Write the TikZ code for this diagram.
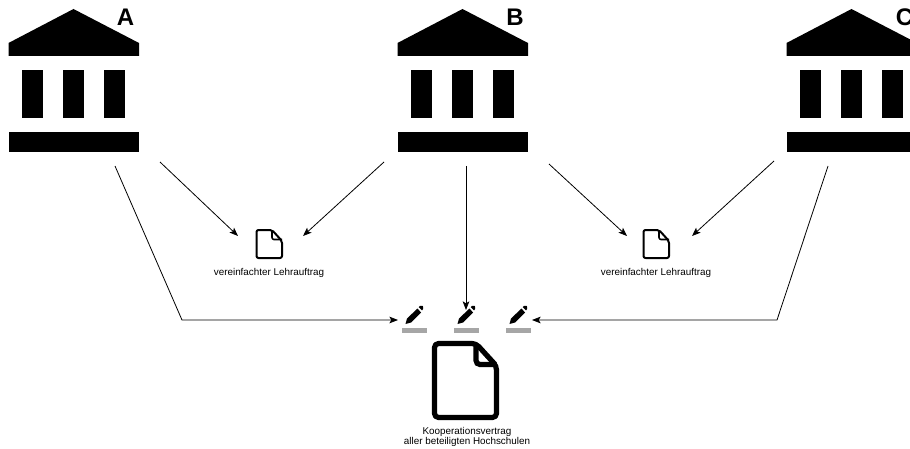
\documentclass[tikz,border=0pt]{standalone}
\usepackage{fontspec}
\setmainfont{Liberation Sans}
\usetikzlibrary{arrows.meta}
\tikzset{
  px/.style={x=0.75pt,y=-0.75pt},
  conn/.style={draw=black,line width=0.6pt,-{Stealth[length=6.5pt,width=5pt,inset=1.5pt]}},
  solidfill/.style={fill=black,draw=none},
  smalllabel/.style={inner sep=0pt,font=\fontsize{7.4}{8}\selectfont,align=center},
  letterlabel/.style={inner sep=0pt,font=\fontsize{18}{18}\selectfont\bfseries},
  docline/.style={draw=black,line join=round,rounded corners=1.5pt},
  signbar/.style={fill=black!35,draw=none},
}
\newcommand{\bank}[1]{%
  \begin{scope}[shift={(#1,0)}]
    \fill[solidfill] (8.5,43) -- (73.5,9) -- (139,43) -- (139,56) -- (8.5,56) -- cycle;
    \fill[solidfill] (22,70) rectangle (43,118);
    \fill[solidfill] (63,70) rectangle (84,118);
    \fill[solidfill] (104,70) rectangle (125,118);
    \fill[solidfill] (8.5,132) rectangle (139,152.5);
  \end{scope}}
\newcommand{\pen}[1]{%
  \begin{scope}[shift={(#1,0)}]
    \fill[solidfill] (-8.5,324) -- (-7,318.5) -- (3.5,308.5) -- (7,312.5) -- (-3,322.5) -- cycle;
    \fill[solidfill] (4.7,307.2) -- (6.2,305.8) .. controls (7,305.2) and (7.8,305.2) .. (8.4,305.8) -- (9.2,306.8) .. controls (9.8,307.5) and (9.8,308.2) .. (9.2,308.9) -- (8,310.4) -- cycle;
    \fill[signbar] (-12,328) rectangle (13,333);
  \end{scope}}
\newcommand{\smalldoc}[1]{%
  \begin{scope}[shift={(#1,0)}]
    \draw[docline,line width=1.5pt] (256.5,230) -- (272,230) -- (282,241) -- (282,258) -- (256.5,258) -- cycle;
    \draw[docline,line width=1.2pt] (272,230) -- (272,239.5) -- (282,239.5);
  \end{scope}}
\begin{document}
\begin{tikzpicture}[px]
  \useasboundingbox (0,0) rectangle (910,449);
  \clip (0,0) rectangle (910,449);
  \bank{0}
  \bank{389}
  \bank{778}
  \node[letterlabel] (la) at (125.5,17) {A};
  \node[letterlabel] (lb) at (515,17) {B};
  \node[letterlabel] (lc) at (904.5,17) {C};
  \smalldoc{0}
  \smalldoc{387}
  \node[smalllabel] (t1) at (269,272.5) {vereinfachter Lehrauftrag};
  \node[smalllabel] (t2) at (656,272.5) {vereinfachter Lehrauftrag};
  \pen{414}
  \pen{466}
  \pen{518}
  \draw[draw=black,line width=3.9pt,line join=round,rounded corners=3pt] (434.5,343.5) -- (476,343.5) -- (496.5,366) -- (496.5,417.5) -- (434.5,417.5) -- cycle;
  \draw[draw=black,line width=3.9pt,rounded corners=3pt] (476,343.5) -- (476,364.5) -- (496.5,364.5);
  \node[smalllabel] (t3) at (467,437) {Kooperationsvertrag\\aller beteiligten Hochschulen};
  \coordinate (a1) at (115,166);
  \coordinate (a1b) at (182,320);
  \coordinate (s1) at (398,320);
  \coordinate (a2) at (160,162);
  \coordinate (d1a) at (238,236);
  \coordinate (b1) at (384,162);
  \coordinate (d1b) at (303,236);
  \coordinate (b2) at (466,166);
  \coordinate (s2) at (466,310);
  \coordinate (b3) at (549,164);
  \coordinate (d2a) at (627,236);
  \coordinate (c1) at (774,161);
  \coordinate (d2b) at (692,236);
  \coordinate (c2) at (828,166);
  \coordinate (c2b) at (777,320);
  \coordinate (s3) at (532,320);
  \draw[conn] (a1) -- (a1b) -- (s1);
  \draw[conn] (a2) -- (d1a);
  \draw[conn] (b1) -- (d1b);
  \draw[conn] (b2) -- (s2);
  \draw[conn] (b3) -- (d2a);
  \draw[conn] (c1) -- (d2b);
  \draw[conn] (c2) -- (c2b) -- (s3);
\end{tikzpicture}
\end{document}
